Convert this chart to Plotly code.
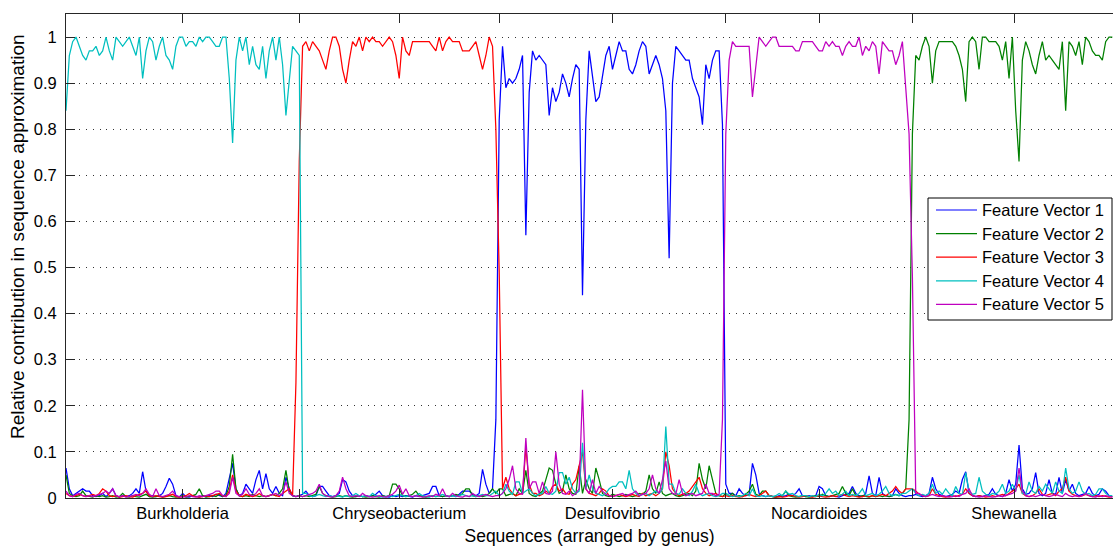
import plotly.graph_objects as go

# Genus order along the x axis
genera = ["Burkholderia", "Chryseobacterium", "Desulfovibrio", "Nocardioides", "Shewanella"]

# Relative contribution (in percent) of each feature vector, per genus
# --- Burkholderia (70 sequences)
fv1_burk = [6.5, 2, 0.5, 1, 1.5, 2, 1.5, 1.5, 0.5, 0.3,
            0.5, 1, 0.3, 1, 2, 0.5, 0.2, 0.5, 0.3, 0.5,
            1, 2, 1, 5.7, 1.5, 0.3, 0.5, 0.3, 0.5, 1,
            2.5, 4.3, 3, 0.5, 0.2, 1, 0.3, 0.2, 0.5, 0.3,
            0.2, 0.5, 0.3, 0.5, 0.3, 0.8, 0.5, 0.3, 1, 4,
            7.5, 2, 0.5, 1, 3, 2, 1, 4, 6, 2,
            5.3, 2, 1, 2.5, 1, 0.5, 4.5, 2, 0.5, 0.3]
fv2_burk = [5, 1, 0.5, 0.3, 0.5, 1.5, 0.5, 0.3, 0.2, 0.5,
            0.3, 0.5, 0.2, 0.3, 0.5, 0.2, 0.3, 1, 0.3, 0.2,
            0.5, 0.3, 0.2, 0.5, 0.8, 0.3, 0.2, 0.3, 0.5, 0.2,
            0.3, 0.5, 0.3, 0.2, 0.3, 0.5, 0.2, 0.3, 0.5, 0.8,
            2, 0.5, 0.2, 0.3, 0.5, 0.3, 0.8, 0.3, 0.5, 2.5,
            9.5, 2, 0.5, 0.3, 0.5, 0.3, 0.8, 0.5, 0.3, 0.5,
            0.3, 0.5, 0.8, 0.5, 1, 2, 6, 1.5, 0.5, 0.3]
fv3_burk = [1, 0.5, 0.3, 0.5, 0.8, 0.5, 0.3, 0.5, 0.8, 0.5,
            1, 2, 1.5, 0.5, 0.3, 0.5, 0.2, 0.3, 0.5, 0.3,
            0.2, 0.5, 0.8, 1, 1.5, 0.5, 0.3, 0.5, 0.3, 0.2,
            0.3, 0.5, 0.8, 0.3, 0.2, 0.3, 0.5, 1, 0.5, 0.3,
            0.2, 0.3, 0.5, 0.3, 0.5, 0.8, 1, 0.5, 0.3, 1.5,
            5, 1.5, 0.5, 0.3, 0.8, 0.5, 0.3, 0.5, 1, 0.5,
            0.3, 0.5, 0.8, 0.5, 0.3, 1, 1.5, 2, 0.5, 25]
fv4_burk = [84, 96, 99, 100, 98, 96, 95, 97, 97, 98,
            96, 97, 100, 97, 95, 100, 99, 98, 99, 100,
            98, 96, 100, 91, 97, 100, 99, 95, 98, 100,
            96, 95, 93, 98, 100, 100, 98, 99, 99, 98,
            100, 99, 100, 100, 99, 98, 98, 100, 100, 91,
            77, 95, 100, 97, 100, 94, 98, 94, 93, 98,
            91, 97, 100, 95, 100, 94, 83, 90, 98, 97]
fv5_burk = [1.5, 0.5, 0.3, 0.8, 1, 0.5, 0.3, 0.5, 0.3, 0.5,
            0.8, 1, 1.5, 1, 2, 0.5, 0.3, 0.5, 0.2, 0.3,
            0.5, 0.8, 0.5, 1, 2, 0.8, 0.3, 2, 0.5, 0.3,
            0.5, 0.8, 1.5, 0.5, 0.3, 0.2, 0.3, 0.5, 0.3, 0.2,
            0.5, 0.3, 0.5, 0.8, 1, 1.5, 1.5, 0.5, 0.3, 1,
            4.5, 1, 0.5, 0.8, 2, 0.8, 0.5, 1, 2, 0.5,
            0.3, 0.5, 0.8, 1, 0.5, 1, 3.5, 1, 0.5, 0.3]

# --- Chryseobacterium (60 sequences)
fv1_chry = [0.5, 0.8, 1.5, 0.5, 0.3, 0.5, 2.5, 2.5, 1.5, 0.5,
            0.3, 0.5, 1, 4, 3.5, 1.5, 0.5, 0.3, 0.5, 0.3,
            0.5, 0.3, 0.5, 0.8, 1.5, 0.5, 0.3, 0.2, 0.5, 0.3,
            0.5, 0.3, 0.5, 0.3, 0.2, 0.5, 0.3, 0.5, 0.8, 1,
            2.5, 2.5, 0.5, 0.3, 0.5, 0.3, 0.5, 0.3, 0.8, 1.5,
            1.5, 1.5, 0.8, 0.5, 1, 6.2, 3, 1, 2, 17]
fv2_chry = [0.5, 0.3, 0.5, 0.3, 0.5, 0.8, 2.5, 1, 0.5, 0.3,
            0.2, 0.3, 0.5, 0.3, 0.5, 0.3, 0.2, 0.3, 0.5, 0.3,
            0.2, 0.3, 0.5, 0.3, 0.2, 0.5, 0.3, 0.5, 3, 3,
            2, 0.5, 0.3, 0.5, 0.8, 1.5, 0.5, 0.3, 0.2, 0.3,
            0.5, 0.3, 0.5, 0.3, 0.5, 0.3, 0.5, 0.8, 0.5, 1,
            2, 2, 0.5, 0.3, 0.5, 0.3, 0.5, 1, 2, 1]
fv3_chry = [73, 98, 99, 97, 99, 98, 97, 95, 93, 97,
            100, 100, 98, 93, 90, 95, 99, 98, 100, 97,
            100, 99, 100, 99, 99, 98, 99, 100, 99, 96,
            91, 100, 97, 96, 99, 99, 99, 99, 99, 99,
            98, 97, 100, 97, 99, 100, 99, 99, 99, 97,
            97, 97, 98, 99, 96, 93, 96, 100, 98, 80]
fv4_chry = [96, 1, 1, 0.5, 0.3, 0.5, 0.8, 0.5, 0.3, 0.5,
            0.3, 0.5, 0.3, 0.2, 0.5, 0.3, 0.5, 1, 0.5, 0.3,
            0.5, 0.3, 1, 0.5, 0.3, 0.2, 0.3, 0.5, 0.3, 0.5,
            0.8, 0.5, 0.3, 0.5, 0.3, 0.5, 1, 0.5, 0.3, 0.2,
            0.5, 0.3, 0.5, 0.8, 0.5, 0.3, 0.5, 0.3, 0.5, 0.8,
            0.5, 0.3, 0.5, 0.3, 0.5, 0.8, 0.5, 0.5, 1, 1.5]
fv5_chry = [0.5, 0.3, 0.5, 0.8, 1, 1.5, 3, 1, 0.5, 0.3,
            0.2, 0.5, 1.5, 4.5, 2, 0.5, 0.3, 0.5, 0.3, 1,
            0.5, 0.3, 0.2, 0.3, 0.5, 0.3, 0.2, 0.5, 0.8, 1.5,
            2.8, 0.8, 2, 0.5, 0.3, 0.5, 0.3, 0.2, 0.3, 0.5,
            0.3, 0.8, 0.5, 2, 0.5, 0.3, 1, 0.5, 0.3, 0.2,
            0.5, 0.3, 1, 0.5, 0.3, 0.5, 0.8, 0.5, 0.3, 0.5]

# --- Desulfovibrio (68 sequences)
fv1_desu = [82, 98, 89, 91, 90, 91, 93, 96, 57, 88,
            97, 95, 96, 95, 94, 83, 89, 86, 88, 92,
            90, 87, 91, 94, 93, 44, 82, 97, 91, 86,
            87, 92, 96, 98, 93, 96, 99, 97, 97, 93,
            92, 94, 97, 99, 98, 92, 94, 96, 94, 91,
            84, 52, 90, 98, 97, 96, 95, 95, 91, 89,
            87, 81, 94, 91, 95, 97, 97, 81]
fv2_desu = [2, 2, 0.5, 0.8, 1, 0.5, 2, 1, 6, 1,
            0.5, 0.3, 0.8, 1.5, 4, 6.5, 6, 3, 1, 1.5,
            5, 2, 1, 0.8, 7, 1, 4, 2, 1, 6.5,
            4, 1, 0.5, 0.3, 0.8, 0.5, 0.3, 0.5, 0.8, 0.5,
            0.3, 0.5, 1, 0.8, 1.5, 5, 2, 1, 3.5, 1,
            0.5, 0.8, 1, 0.5, 0.3, 0.5, 0.8, 1, 0.5, 1.5,
            7.5, 4, 2, 7, 4, 1, 0.5, 0.3]
fv3_desu = [49, 2, 4.5, 2, 1, 0.5, 0.8, 1, 11, 3,
            1, 1, 0.5, 0.8, 1.5, 1, 2.5, 3, 1.5, 2,
            1, 0.8, 3, 4, 7, 10, 2, 1, 0.8, 0.5,
            1, 2, 1.5, 0.5, 0.3, 0.5, 0.8, 0.5, 0.3, 0.5,
            0.8, 0.5, 0.3, 1, 0.5, 0.8, 1, 0.5, 1, 2,
            10, 7, 2, 1, 0.5, 0.8, 1, 1.5, 2.5, 3.5,
            4.5, 2, 1, 0.5, 0.8, 1, 0.5, 0.3]
fv4_desu = [0.5, 1, 3, 1.5, 0.8, 3.5, 3.5, 1, 1.5, 2,
            1, 0.5, 0.8, 1, 2.5, 1, 0.8, 1.5, 5.5, 5.5,
            3, 4.5, 2, 1, 1.5, 12, 2, 5, 2, 1,
            0.8, 0.5, 1, 2, 2.5, 2.5, 3.5, 3.5, 2, 6,
            2, 1, 0.5, 0.8, 1, 0.5, 1, 1.5, 1, 2,
            15.5, 3, 3, 1, 0.8, 2, 1, 0.5, 1.5, 3,
            1, 0.5, 0.8, 1, 0.5, 0.3, 0.5, 1]
fv5_desu = [0.5, 1, 2, 4, 7, 2, 1, 0.8, 13, 2,
            3.5, 3.5, 1, 3.5, 1, 0.8, 1.5, 10, 3, 1,
            0.8, 1.5, 0.5, 1, 2, 23.5, 2, 1, 4, 1,
            2.5, 1.5, 0.8, 0.5, 0.3, 0.5, 0.8, 1, 0.5, 0.8,
            1, 1.5, 0.5, 0.8, 1, 2, 5, 2, 1, 4,
            8, 2, 1, 0.8, 4, 1, 0.5, 0.8, 1, 0.5,
            0.8, 1, 3, 1, 1, 0.5, 0.8, 17]

# --- Nocardioides (56 sequences)
fv1_noca = [3, 1, 1, 0.5, 2, 1, 0.5, 0.8, 7.5, 5,
            1, 0.5, 0.3, 0.5, 0.3, 0.2, 0.5, 0.3, 0.5, 0.8,
            0.5, 1, 2, 0.5, 0.3, 0.5, 0.3, 0.5, 2.5, 2,
            0.5, 0.3, 0.5, 0.3, 0.2, 0.5, 0.8, 1, 2.5, 1,
            0.5, 0.3, 1, 4.8, 1, 0.5, 4.5, 1, 0.5, 0.3,
            0.5, 2, 1, 0.5, 0.3, 0.5]
fv2_noca = [1, 0.5, 1, 0.3, 0.5, 0.3, 0.8, 1.5, 3, 0.8,
            0.5, 1.5, 1.5, 0.5, 0.3, 0.2, 0.3, 0.5, 1.5, 0.5,
            0.3, 0.2, 0.3, 0.5, 0.3, 0.2, 0.3, 0.5, 0.3, 0.8,
            0.5, 0.3, 0.5, 0.8, 1, 2.5, 1, 0.5, 2, 0.5,
            0.3, 0.5, 0.3, 0.2, 0.5, 0.3, 0.5, 0.3, 0.5, 0.3,
            0.5, 0.8, 0.5, 1, 2, 17]
fv3_noca = [0.5, 0.3, 0.5, 0.3, 0.2, 0.3, 0.5, 0.8, 0.5, 0.3,
            0.5, 1, 1.5, 0.5, 0.3, 0.2, 0.3, 0.2, 0.3, 0.5,
            0.5, 0.3, 0.2, 0.3, 0.5, 0.3, 0.2, 0.3, 0.5, 0.3,
            0.2, 0.3, 0.5, 0.3, 0.5, 0.8, 0.5, 0.3, 0.5, 0.3,
            0.2, 0.3, 0.5, 0.3, 0.5, 0.3, 0.5, 0.8, 0.5, 1,
            1.5, 2.5, 1.5, 1, 2, 2]
fv4_noca = [1, 0.5, 0.3, 0.5, 0.3, 0.5, 1, 0.5, 2, 0.5,
            0.3, 0.5, 0.3, 0.5, 0.3, 0.5, 1, 0.5, 1.5, 0.8,
            1, 0.5, 0.3, 0.5, 0.5, 0.3, 0.5, 0.3, 0.8, 0.5,
            1, 2, 1, 1.5, 0.5, 0.8, 1.5, 0.5, 0.8, 0.5,
            1, 2, 0.5, 0.8, 1, 0.5, 0.8, 1.5, 2.5, 1,
            0.5, 0.8, 0.5, 1, 1, 1.5]
fv5_noca = [79, 95, 99, 98, 98, 98, 98, 98, 87, 93,
            100, 99, 98, 99, 100, 100, 98, 98, 98, 98,
            98, 97, 97, 99, 99, 99, 99, 98, 97, 97,
            99, 98, 99, 98, 98, 96, 98, 99, 98, 98,
            100, 96, 98, 97, 99, 98, 92, 99, 98, 97,
            97, 94, 96, 99, 89, 79]

# --- Shewanella (61 sequences)
fv1_shew = [0.5, 0.8, 0.5, 0.3, 0.5, 1, 4.5, 2, 0.8, 0.5,
            0.3, 0.5, 0.8, 1.5, 1, 4, 5.7, 1, 0.5, 0.3,
            0.5, 0.3, 0.5, 0.8, 2, 0.8, 0.5, 0.3, 1, 4,
            1.5, 3, 11.5, 2, 0.8, 1, 2, 5.5, 1, 0.5,
            1, 4, 1, 0.8, 4.5, 1, 4, 1.5, 3, 1,
            0.5, 0.8, 1, 2.5, 1, 0.5, 0.8, 2, 1.5, 0.5,
            0.3]
fv2_shew = [79, 96, 95, 98, 100, 98, 90, 97, 99, 99,
            99, 99, 99, 98, 96, 93, 86, 99, 100, 99,
            93, 100, 100, 99, 99, 99, 98, 95, 99, 91,
            100, 84, 73, 95, 99, 97, 94, 92, 96, 99,
            95, 96, 95, 94, 93, 99, 84, 99, 98, 96,
            99, 94, 100, 99, 97, 96, 96, 95, 99, 100,
            100]
fv3_shew = [2, 1.5, 0.8, 0.5, 0.3, 0.5, 2, 0.8, 0.5, 0.3,
            0.2, 0.3, 0.5, 0.3, 0.5, 0.8, 2, 1, 0.5, 0.3,
            0.5, 0.3, 0.2, 0.3, 0.5, 0.3, 0.5, 0.8, 0.5, 1,
            1.5, 2, 3, 1, 0.5, 0.3, 0.5, 1, 2, 0.8,
            0.5, 0.8, 1, 0.5, 1.5, 2, 4.5, 1.5, 0.8, 0.5,
            0.3, 0.5, 0.8, 0.5, 0.3, 0.5, 0.3, 0.5, 0.3, 0.2,
            0.3]
fv4_shew = [2, 1, 0.5, 0.8, 0.5, 1, 3, 1, 1.5, 0.8,
            2, 1, 0.5, 2.5, 1, 0.8, 5.5, 1.5, 0.8, 1,
            4.5, 1.5, 0.8, 0.5, 1, 0.8, 1.5, 3, 1, 1.5,
            3, 1.5, 5, 1, 0.8, 3.5, 1.5, 1, 2.5, 1.5,
            3, 2, 1, 3.5, 1.5, 1, 6.5, 2, 1, 1.5,
            3.5, 1.5, 0.8, 1, 0.5, 0.8, 2, 2, 1, 0.5,
            0.5]
fv5_shew = [48, 1, 1, 0.5, 0.3, 0.5, 0.8, 0.5, 0.3, 0.5,
            0.3, 0.2, 0.3, 0.5, 0.3, 0.8, 1, 2, 0.5, 0.3,
            0.2, 0.3, 0.5, 0.3, 0.2, 0.3, 0.5, 0.3, 0.5, 0.8,
            1, 1.5, 6.5, 1.5, 0.5, 0.3, 0.5, 0.3, 0.5, 0.8,
            0.5, 0.3, 0.5, 0.8, 0.5, 0.3, 1, 0.5, 0.3, 0.5,
            0.3, 0.5, 1, 0.5, 0.3, 0.2, 0.5, 0.3, 0.5, 0.3,
            0.2]

series_names = ["Feature Vector 1", "Feature Vector 2", "Feature Vector 3",
                "Feature Vector 4", "Feature Vector 5"]
series_colors = ["#0000ff", "#008000", "#ff0000", "#00bfbf", "#bf00bf"]

y_ticks = [0, 0.1, 0.2, 0.3, 0.4, 0.5, 0.6, 0.7, 0.8, 0.9, 1]
y_ticklabels = ["0", "0.1", "0.2", "0.3", "0.4", "0.5", "0.6", "0.7", "0.8", "0.9", "1"]

per_genus = [
    [fv1_burk, fv2_burk, fv3_burk, fv4_burk, fv5_burk],
    [fv1_chry, fv2_chry, fv3_chry, fv4_chry, fv5_chry],
    [fv1_desu, fv2_desu, fv3_desu, fv4_desu, fv5_desu],
    [fv1_noca, fv2_noca, fv3_noca, fv4_noca, fv5_noca],
    [fv1_shew, fv2_shew, fv3_shew, fv4_shew, fv5_shew],
]

# Sequence numbers run 1..N across all genera, in genus order
genus_sizes = [len(g[0]) for g in per_genus]
n_total = sum(genus_sizes)
seq = list(range(1, n_total + 1))

series = []
for k in range(5):
    vals = []
    for g in per_genus:
        vals.extend(v / 100.0 for v in g[k])
    series.append(vals)

# Tick marks at genus starts, labels centred on each genus block
starts = [1]
for s in genus_sizes[:-1]:
    starts.append(starts[-1] + s)
ends = starts[1:] + [n_total + 1]
centers = [(a + b) / 2 for a, b in zip(starts, ends)]
tickvals = centers + starts[1:]
ticktext = genera + [""] * (len(starts) - 1)

fig = go.Figure()
for name, color, vals in zip(series_names, series_colors, series):
    fig.add_trace(go.Scatter(
        x=seq, y=vals, mode="lines", name=name, showlegend=False,
        line=dict(color=color, width=1.25),
    ))

font_family = "Liberation Sans, Arial, sans-serif"
text_size = 16.5
title_size = 17.5
ytitle_size = 19

# Figure geometry (pixels)
W, H = 1113, 548
ML, MR, MT, MB = 66, 0, 14, 50
plot_w = W - ML - MR
plot_h = H - MT - MB


def px_x(px):
    return (px - ML) / plot_w


def px_y(py):
    return (H - MB - py) / plot_h


# Boxed legend in the upper right of the axes
shapes = [dict(type="rect", xref="paper", yref="paper",
               x0=px_x(928), x1=px_x(1112), y0=px_y(320), y1=px_y(198),
               line=dict(color="#000000", width=1), fillcolor="white", layer="above")]
annotations = []
for k, (name, color) in enumerate(zip(series_names, series_colors)):
    row_y = 210 + 23.6 * k
    shapes.append(dict(type="line", xref="paper", yref="paper",
                       x0=px_x(936), x1=px_x(977), y0=px_y(row_y), y1=px_y(row_y),
                       line=dict(color=color, width=1.2), layer="above"))
    annotations.append(dict(xref="paper", yref="paper", x=px_x(980), y=px_y(row_y),
                            xanchor="left", yanchor="middle", text=name, showarrow=False,
                            font=dict(family=font_family, size=text_size, color="#000000")))

# Vertical y-axis label
annotations.append(dict(xref="paper", yref="paper", x=px_x(18), y=px_y(237),
                        xanchor="center", yanchor="middle", textangle=-90,
                        text="Relative contribution in sequence approximation",
                        showarrow=False,
                        font=dict(family=font_family, size=ytitle_size, color="#000000")))

fig.update_layout(
    width=W, height=H,
    margin=dict(l=ML, r=MR, t=MT, b=MB),
    paper_bgcolor="white", plot_bgcolor="white",
    font=dict(family=font_family, size=text_size, color="#000000"),
    showlegend=False,
    shapes=shapes,
    annotations=annotations,
    xaxis=dict(
        range=[1, 315.2],
        tickmode="array", tickvals=tickvals, ticktext=ticktext,
        ticks="inside", ticklen=9, tickwidth=1, tickcolor="#262626",
        showline=True, linecolor="#262626", linewidth=1, mirror="allticks",
        showgrid=False, zeroline=False,
        tickfont=dict(size=text_size, color="#000000"),
        title=dict(text="Sequences (arranged by genus)", standoff=8,
                   font=dict(size=title_size, color="#000000")),
    ),
    yaxis=dict(
        range=[0, 1.05],
        tickmode="array", tickvals=y_ticks, ticktext=y_ticklabels,
        ticks="inside", ticklen=9, tickwidth=1, tickcolor="#262626",
        showline=True, linecolor="#262626", linewidth=1,
        showgrid=True, gridcolor="#333333", gridwidth=1, griddash="1px,5.7px",
        zeroline=False, ticklabelstandoff=5,
        tickfont=dict(size=text_size, color="#000000"),
    ),
)

fig.write_html("out.html")
